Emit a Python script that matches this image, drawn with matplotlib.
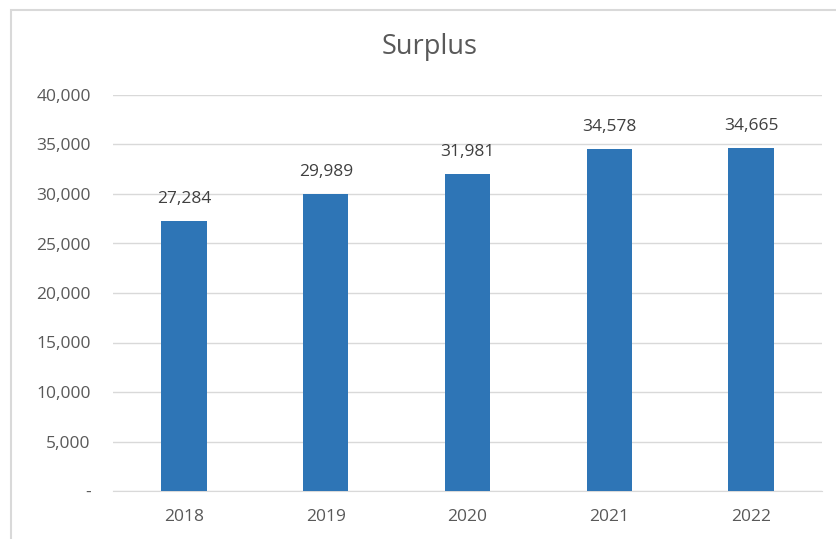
import matplotlib.pyplot as plt
from matplotlib.patches import Rectangle
from matplotlib.ticker import FuncFormatter

# data
years = ['2018', '2019', '2020', '2021', '2022']
surplus = [27284, 29989, 31981, 34578, 34665]
y_ticks = [0, 5000, 10000, 15000, 20000, 25000, 30000, 35000, 40000]

BAR_COLOR = '#2E75B6'
TEXT_COLOR = '#595959'
GRID_COLOR = '#D9D9D9'

plt.rcParams['font.family'] = ['Open Sans', 'DejaVu Sans']

fig = plt.figure(figsize=(8.36, 5.39), dpi=100)
ax = fig.add_axes([113 / 836, 1 - 491 / 539, 709 / 836, 396 / 539])

x_pos = range(len(years))
bars = ax.bar(x_pos, surplus, width=0.32, color=BAR_COLOR, zorder=3)

for b, v in zip(bars, surplus):
    ax.annotate(f'{v:,}', (b.get_x() + b.get_width() / 2, v), xytext=(0, 10),
                textcoords='offset points', ha='center', va='bottom',
                fontsize=12.5, color='#404040')

ax.set_xlim(-0.5, len(years) - 0.5)
ax.set_ylim(0, 40000)
ax.set_yticks(y_ticks)
ax.yaxis.set_major_formatter(FuncFormatter(lambda v, p: '-' if v == 0 else f'{int(v):,}'))
ax.set_xticks(list(x_pos))
ax.set_xticklabels(years)
ax.tick_params(axis='both', length=0, labelsize=12.5, labelcolor=TEXT_COLOR)
ax.tick_params(axis='y', pad=16)
ax.tick_params(axis='x', pad=13)

ax.grid(axis='y', color=GRID_COLOR, linewidth=1, zorder=0)
for s in ['top', 'right', 'left']:
    ax.spines[s].set_visible(False)
ax.spines['bottom'].set_color(GRID_COLOR)

fig.text(430 / 836, 1 - 47 / 539, 'Surplus', ha='center', va='center',
         fontsize=19.5, color=TEXT_COLOR)

# chart border (cut off at right/bottom in the reference)
fig.patches.append(Rectangle((11 / 836, -0.1), 1.2, 1 - 10 / 539 + 0.1,
                             transform=fig.transFigure, fill=False,
                             edgecolor='#D9D9D9', linewidth=1.5))

fig.savefig('out.png', dpi=100)
